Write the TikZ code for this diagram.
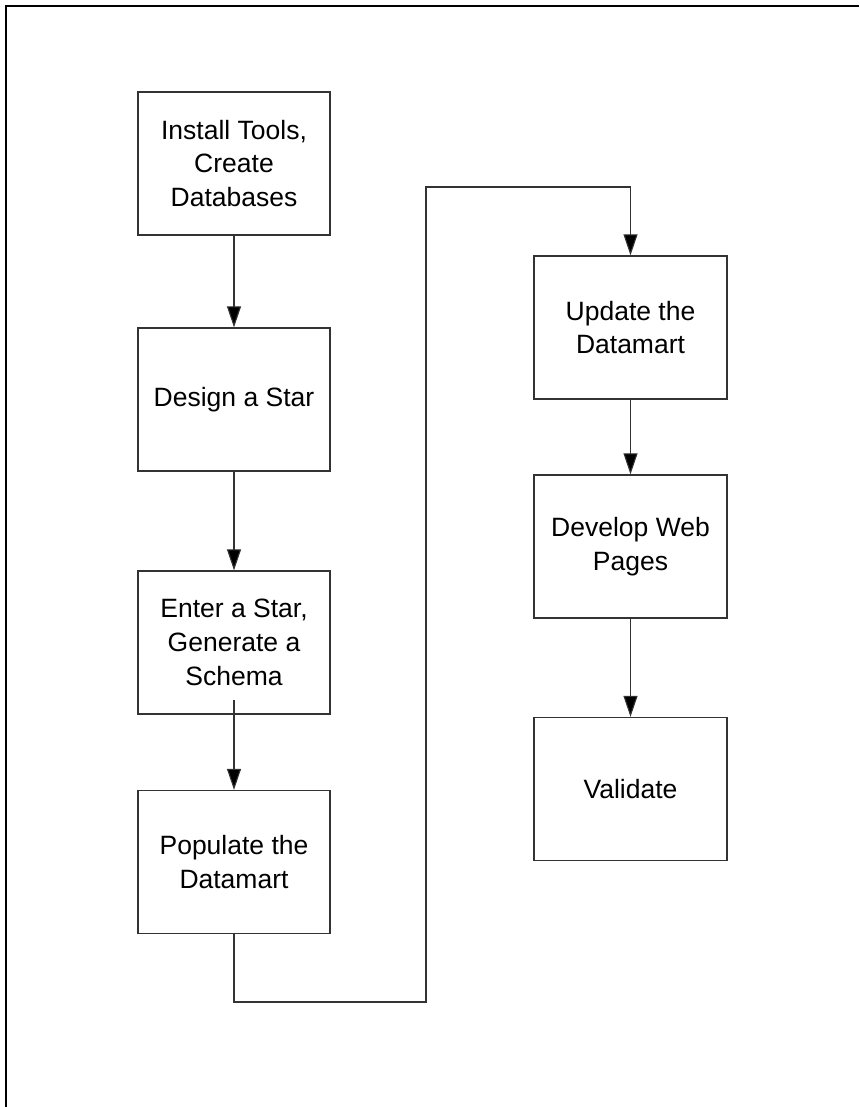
\documentclass[tikz,border=0pt]{standalone}
\usepackage{fontspec}
\setmainfont{Liberation Sans}
\usetikzlibrary{arrows.meta}
\definecolor{edge}{HTML}{333333}
\tikzset{
  stepbox/.style={draw=edge, line width=1.3pt, fill=white, rectangle,
    minimum width=192pt, minimum height=143pt, inner sep=0pt,
    align=center, font=\fontsize{26.5}{33.7}\selectfont},
  flow/.style={draw=edge, line width=1.1pt,
    -{Triangle[length=21pt,width=14pt,fill=black]}},
  plain/.style={draw=edge, line width=1.1pt}
}
\begin{document}
\begin{tikzpicture}[x=1pt,y=-1pt]
\useasboundingbox (0,0) rectangle (859,1107);
% page frame: top and left edges only
\draw[line width=2pt, black] (6,1107) -- (6,6) -- (859,6);

% left column
\node[stepbox] (b1) at (234,163.5) {Install Tools,\\Create\\Databases};
\node[stepbox] (b2) at (234,399.5) {Design a Star};
\node[stepbox] (b3) at (234,642.5) {Enter a Star,\\Generate a\\Schema};
\node[stepbox] (b4) at (234,862) {Populate the\\Datamart};

% right column
\node[stepbox, minimum width=193pt] (b5) at (630.5,327.5) {Update the\\Datamart};
\node[stepbox, minimum width=193pt] (b6) at (630.5,546.5) {Develop Web\\Pages};
\node[stepbox, minimum width=193pt] (b7) at (630.5,789) {Validate};

% connectors
\draw[flow] (b1.south) -- (b2.north);
\draw[flow] (b2.south) -- (b3.north);
\draw[flow] ([yshift=15pt]b3.south) -- (b4.north);
\draw[flow] (b5.south) -- (b6.north);
\draw[flow] (b6.south) -- (b7.north);

\coordinate (k1) at (234,1002);
\coordinate (k2) at (426,1002);
\coordinate (k3) at (426,187);
\coordinate (k4) at (630.5,187);
\draw[plain] (b4.south) -- (k1) -- (k2) -- (k3) -- (k4);
\draw[flow] (k4) -- (b5.north);
\end{tikzpicture}
\end{document}
